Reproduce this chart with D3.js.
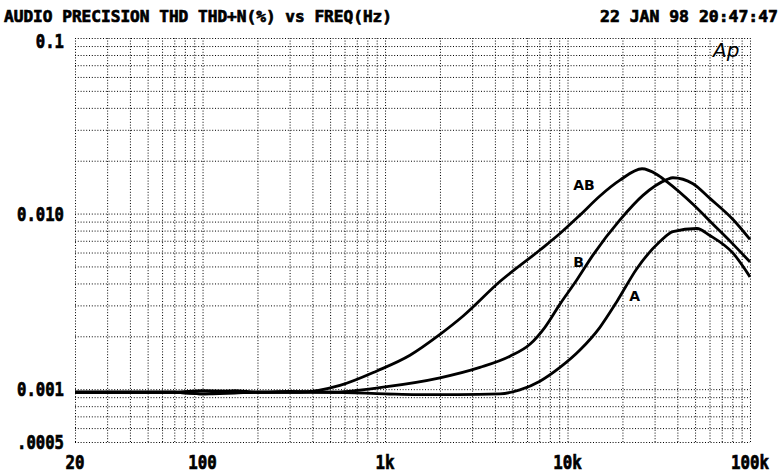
<!DOCTYPE html>
<html>
<head>
<meta charset="utf-8">
<script src="https://cdn.jsdelivr.net/npm/d3@7"></script>
<style>
  body { margin:0; background:#fff; }
  svg { display:block; }
  .hdr { font-family:"DejaVu Sans Mono", monospace; font-weight:bold; font-size:16px; fill:#000; stroke:#000; stroke-width:0.7; }
  .tk { font-family:"DejaVu Sans Mono", monospace; font-weight:bold; font-size:19px; fill:#000; stroke:#000; stroke-width:0.7; }
  .lbl { font-family:"DejaVu Sans", sans-serif; font-weight:bold; font-size:14px; fill:#000; }
  .grid line { stroke:#000; stroke-width:1; stroke-dasharray:1,1.8; }
  .grid path { display:none; }
  .crv { fill:none; stroke:#000; stroke-width:2.8; stroke-linejoin:round; }
</style>
</head>
<body>
<svg id="chart" width="781" height="475"></svg>
<script>
// frequency (Hz) and THD+N (%)
var freqAB = [20, 40, 70, 100, 150, 200, 342, 566, 903, 1370, 2000, 2670, 4260, 7060, 9090, 11700, 15050, 19380, 25600, 30900, 35000, 48700, 62700, 80700, 100000];
var thdAB  = [0.00096, 0.00096, 0.00096, 0.00098, 0.00097, 0.00096, 0.00096, 0.00105, 0.00127, 0.00156, 0.00205, 0.0026, 0.0041, 0.0062, 0.0077, 0.0098, 0.0126, 0.0155, 0.0180, 0.0167, 0.0152, 0.0113, 0.0087, 0.0067, 0.0053];

var freqB = [20, 40, 70, 100, 150, 200, 300, 499, 1000, 2000, 3310, 4840, 6220, 7520, 9090, 11260, 13780, 19380, 25900, 35000, 37800, 48700, 60300, 80700, 100000];
var thdB  = [0.00096, 0.00096, 0.00096, 0.00094, 0.00098, 0.00096, 0.00097, 0.00096, 0.00103, 0.00116, 0.00133, 0.00154, 0.0018, 0.00225, 0.00305, 0.0042, 0.0058, 0.0092, 0.0127, 0.0156, 0.0160, 0.0148, 0.0122, 0.00925, 0.00712];

var freqA = [20, 40, 70, 100, 150, 200, 300, 500, 1000, 1500, 2500, 4260, 5480, 7060, 9090, 11700, 15050, 18660, 24020, 32100, 37800, 51200, 60300, 80700, 100000];
var thdA  = [0.00096, 0.00096, 0.00096, 0.00094, 0.00095, 0.00096, 0.00096, 0.00096, 0.00094, 0.00093, 0.00093, 0.00094, 0.00099, 0.00111, 0.00133, 0.00167, 0.00225, 0.00316, 0.00487, 0.00693, 0.0079, 0.00822, 0.0075, 0.00595, 0.00436];

var xTickVals = [20, 100, 1000, 10000, 100000];
var xTickLabels = ["20", "100", "1k", "10k", "100k"];
var yTickVals = [0.1, 0.01, 0.001, 0.0005];
var yTickLabels = ["0.1", "0.010", "0.001", ".0005"];

var curveLabels = [
  {name:"AB", f:12300, v:0.0145},
  {name:"B",  f:11500, v:0.0053},
  {name:"A",  f:23300, v:0.0034}
];

function draw(){
  var svg = d3.select('#chart');
  var mL = 75, mR = 750, mT = 38, mB = 442;

  var x = d3.scaleLog().domain([20, 100000]).range([mL, mR]);
  var y = d3.scaleLog().domain([0.0005, 0.1]).range([mB, mT]);

  // header
  svg.append('text').attr('class','hdr').attr('x',4).attr('y',22)
    .attr('textLength',388).attr('lengthAdjust','spacingAndGlyphs')
    .text('AUDIO PRECISION THD THD+N(%) vs FREQ(Hz)');
  svg.append('text').attr('class','hdr').attr('x',778).attr('y',22)
    .attr('text-anchor','end')
    .attr('textLength',178).attr('lengthAdjust','spacingAndGlyphs')
    .text('22 JAN 98 20:47:47');

  // dotted grid
  svg.append('g').attr('class','grid')
    .attr('transform','translate(0,' + mB + ')')
    .call(d3.axisBottom(x).tickValues(x.ticks()).tickSize(-(mB-mT)).tickFormat(''));
  svg.append('g').attr('class','grid')
    .attr('transform','translate(' + mL + ',0)')
    .call(d3.axisLeft(y).tickValues(y.ticks()).tickSize(-(mR-mL)).tickFormat(''));

  // tick labels
  svg.selectAll('text.xt').data(xTickVals).enter().append('text')
    .attr('class','tk xt')
    .attr('x', function(d){ return x(d); })
    .attr('y', 469)
    .attr('text-anchor','middle')
    .attr('textLength', function(d,i){ return xTickLabels[i].length*9.5; })
    .attr('lengthAdjust','spacingAndGlyphs')
    .text(function(d,i){ return xTickLabels[i]; });

  svg.selectAll('text.yt').data(yTickVals).enter().append('text')
    .attr('class','tk yt')
    .attr('x', 64)
    .attr('y', function(d, i){ return y(d) + (i==0 ? 10 : 7); })
    .attr('text-anchor','end')
    .attr('textLength', function(d,i){ return yTickLabels[i].length*9.4; })
    .attr('lengthAdjust','spacingAndGlyphs')
    .text(function(d,i){ return yTickLabels[i]; });

  // curves
  var line = d3.line()
    .x(function(d){ return x(d[0]); })
    .y(function(d){ return y(d[1]); })
    .curve(d3.curveMonotoneX);

  [[freqA, thdA], [freqB, thdB], [freqAB, thdAB]].forEach(function(s){
    svg.append('path').attr('class','crv')
      .attr('d', line(d3.zip(s[0], s[1])));
  });

  svg.selectAll('text.cl').data(curveLabels).enter().append('text')
    .attr('class','lbl cl')
    .attr('x', function(d){ return x(d.f); })
    .attr('y', function(d){ return y(d.v); })
    .attr('dy', '0.35em')
    .attr('text-anchor','middle')
    .text(function(d){ return d.name; });

  // Ap logo
  svg.append('text').attr('x',713).attr('y',57)
    .style('font-family','"DejaVu Sans", sans-serif').style('font-style','italic')
    .style('font-size','20px').text('Ap');
}
draw();
</script>
</body>
</html>
